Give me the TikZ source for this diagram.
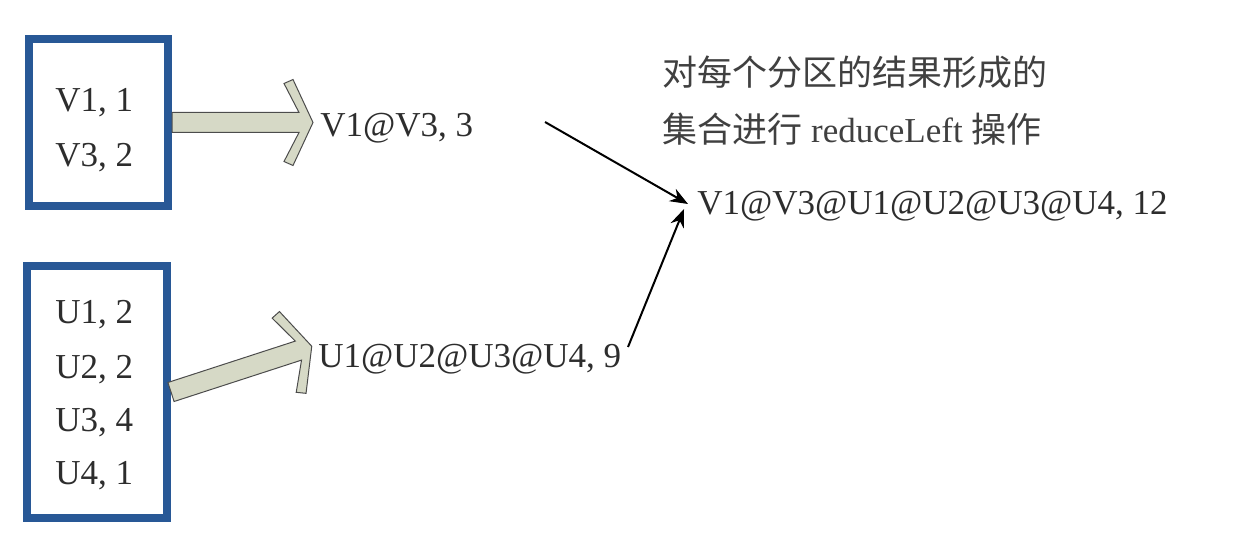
\documentclass[tikz,border=0pt]{standalone}
\usepackage{fontspec}
\setmainfont{Liberation Serif}
\newfontfamily\cjk{Noto Sans CJK SC}
\usetikzlibrary{arrows.meta}
\definecolor{boxblue}{RGB}{40,88,150}
\definecolor{arrfill}{RGB}{214,217,198}
\definecolor{txt}{RGB}{45,45,45}
\tikzset{
  part/.style={draw=boxblue, line width=4pt, fill=white, inner sep=0pt},
  lbl/.style={anchor=base west, inner sep=0pt, text=txt, font=\fontsize{17.5pt}{21pt}\selectfont},
  thin/.style={draw=black, line width=1pt, -{Stealth[length=9pt,width=7pt]}},
  fatarrow/.pic={
    \filldraw[fill=arrfill, draw=black!70, line width=0.5pt]
      (0,10) -- (#1-14,10) -- (#1-29,39) -- (#1-20,43) -- (#1,0)
      -- (#1-20,-43) -- (#1-29,-39) -- (#1-14,-10) -- (0,-10) -- cycle;
  }
}
\begin{document}
\begin{tikzpicture}[x=0.5pt, y=-0.5pt]
\useasboundingbox (0,0) rectangle (1240,539);
% boxes
\node[part, minimum width=69.5pt, minimum height=83.5pt] (b1) at (98.5,122.5) {};
\node[part, minimum width=70pt, minimum height=126pt] (b2) at (97,392) {};
% box contents
\node[lbl] (v1) at (55,112) {V1, 1};
\node[lbl] (v3) at (55,167) {V3, 2};
\node[lbl] (u1) at (55,323) {U1, 2};
\node[lbl] (u2) at (55,378) {U2, 2};
\node[lbl] (u3) at (55,431) {U3, 4};
\node[lbl] (u4) at (55,484) {U4, 1};
% partial results
\node[lbl] (rv) at (320,137) {V1@V3, 3};
\node[lbl] (ru) at (318,367) {U1@U2@U3@U4, 9};
% final
\node[lbl] (fin) at (697,215) {V1@V3@U1@U2@U3@U4, 12};
\node[lbl, text=black!75] (c1) at (662,86) {\cjk 对每个分区的结果形成的};
\node[lbl, text=black!75] (c2) at (662,143) {{\cjk 集合进行} reduceLeft {\cjk 操作}};
% fat arrows
\pic at (b1.east) {fatarrow=141};
\pic[rotate=18] at (b2.east) {fatarrow=148};
% thin arrows
\coordinate (s1) at (545,122);
\coordinate (s2) at (628,347);
\coordinate (e1) at (688,204);
\coordinate (e2) at (684,209);
\draw[thin] (s1) -- (e1);
\draw[thin] (s2) -- (e2);
\end{tikzpicture}
\end{document}
